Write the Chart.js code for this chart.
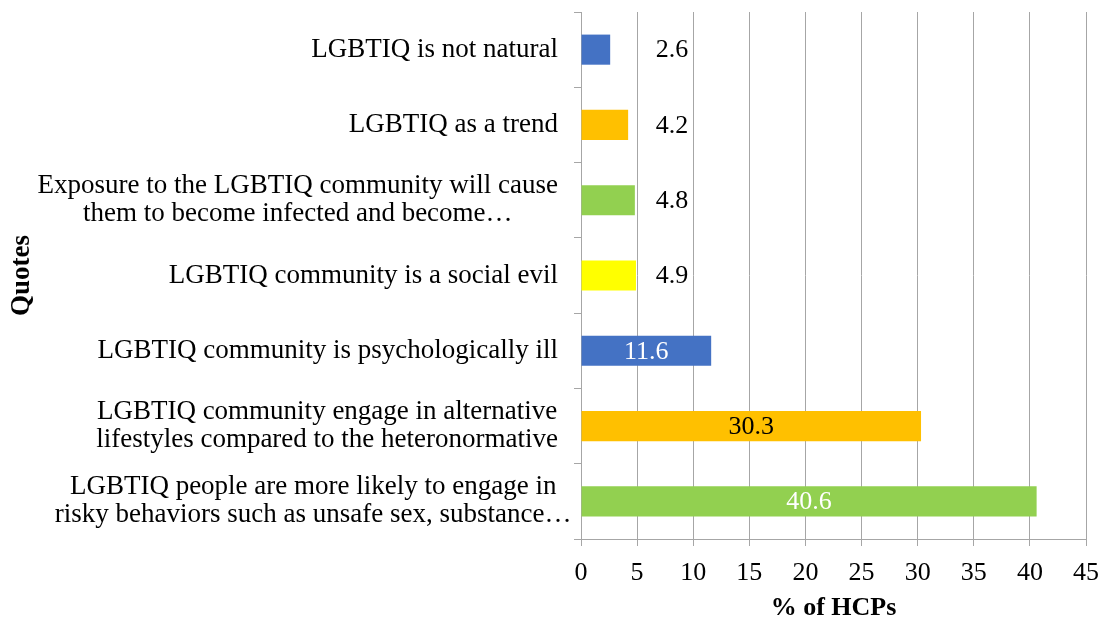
<!DOCTYPE html>
<html>
<head>
<meta charset="utf-8">
<script src="https://cdn.jsdelivr.net/npm/chart.js@4"></script>
<style>
  html, body { margin: 0; padding: 0; background: #fff; }
  canvas { display: block; }
</style>
</head>
<body>
<canvas id="quotesChart" width="1100" height="620"></canvas>
<script>
// quotes, top to bottom
const quotes = [
    ["LGBTIQ is not natural"],
    ["LGBTIQ as a trend"],
    ["Exposure to the LGBTIQ community will cause", "them to become infected and become…"],
    ["LGBTIQ community is a social evil"],
    ["LGBTIQ community is psychologically ill"],
    ["LGBTIQ community engage in alternative", "lifestyles compared to the heteronormative"],
    ["LGBTIQ people are more likely to engage in", "risky behaviors such as unsafe sex, substance…"]
];
const percentHCPs = [2.6, 4.2, 4.8, 4.9, 11.6, 30.3, 40.6];
const xTickValues = [0, 5, 10, 15, 20, 25, 30, 35, 40, 45];

const barColors = ["#4472C4", "#FFC000", "#92D050", "#FFFF00", "#4472C4", "#FFC000", "#92D050"];
const valueColors = ["#000", "#000", "#000", "#000", "#fff", "#000", "#fff"];

const serif = '"Liberation Serif", "Times New Roman", serif';
const gridGray = "#A6A6A6";

Chart.defaults.font.family = serif;
Chart.defaults.color = "#000";

// multi-line category labels: lines centred on each other, block right-aligned
// (a trailing ellipsis is allowed to hang past the right edge)
const quoteLabels = {
    id: "quoteLabels",
    afterDraw(chart) {
        const ctx = chart.ctx;
        const yScale = chart.scales.y;
        const right = yScale.right - 23;
        ctx.save();
        ctx.font = "27px " + serif;
        ctx.fillStyle = "#000";
        ctx.textAlign = "center";
        ctx.textBaseline = "middle";
        quotes.forEach((lines, i) => {
            const yc = yScale.getPixelForValue(i);
            const fitWidth = l => {
                const full = ctx.measureText(l).width;
                return l.endsWith("…") ? full - ctx.measureText("…").width : full;
            };
            const w = Math.max(...lines.map(fitWidth));
            const widest = Math.max(...lines.map(l => ctx.measureText(l).width));
            const cx = lines.length > 1 ? right - w / 2 : right - widest / 2;
            lines.forEach((line, j) => {
                ctx.fillText(line, cx, yc + (j - (lines.length - 1) / 2) * 28);
            });
        });
        ctx.restore();
    }
};

// value labels: inside the long bars, beside the short ones
const valueLabels = {
    id: "valueLabels",
    afterDatasetsDraw(chart) {
        const ctx = chart.ctx;
        const xScale = chart.scales.x;
        const meta = chart.getDatasetMeta(0);
        ctx.save();
        ctx.font = "26px " + serif;
        ctx.textAlign = "center";
        ctx.textBaseline = "middle";
        meta.data.forEach((bar, i) => {
            const v = percentHCPs[i];
            const x = v < 10 ? xScale.getPixelForValue(8.1) : (bar.x + bar.base) / 2;
            ctx.fillStyle = valueColors[i];
            ctx.fillText(v.toFixed(1), x, bar.y + 1);
        });
        ctx.restore();
    }
};

new Chart(document.getElementById("quotesChart"), {
    type: "bar",
    data: {
        labels: quotes,
        datasets: [{
            data: percentHCPs,
            backgroundColor: barColors,
            borderWidth: 0,
            barPercentage: 1,
            categoryPercentage: 0.4
        }]
    },
    options: {
        indexAxis: "y",
        responsive: false,
        animation: false,
        devicePixelRatio: 1,
        layout: { padding: { top: 12, right: 14, bottom: 4, left: 0 } },
        plugins: {
            legend: { display: false },
            tooltip: { enabled: false }
        },
        scales: {
            x: {
                min: xTickValues[0],
                max: xTickValues[xTickValues.length - 1],
                afterBuildTicks(scale) {
                    scale.ticks = xTickValues.map(v => ({ value: v }));
                },
                afterFit(scale) {
                    scale.paddingLeft = 0;
                    scale.paddingRight = 14;
                },
                ticks: {
                    font: { size: 26, lineHeight: 1 },
                    color: "#000",
                    padding: 14
                },
                grid: { color: gridGray, tickLength: 7 },
                border: { color: gridGray },
                title: {
                    display: true,
                    text: "% of HCPs",
                    font: { size: 26, weight: "bold", lineHeight: 0.615 },
                    color: "#000",
                    padding: { top: 0, bottom: 0 }
                }
            },
            y: {
                ticks: { display: false },
                grid: { drawOnChartArea: false, offset: true, tickLength: 7, color: gridGray },
                border: { color: gridGray },
                title: {
                    display: true,
                    text: "Quotes",
                    font: { size: 27, weight: "bold" },
                    color: "#000",
                    padding: { top: 6, bottom: 0 }
                },
                afterFit(scale) {
                    scale.width = 581;
                }
            }
        }
    },
    plugins: [quoteLabels, valueLabels]
});
</script>
</body>
</html>
